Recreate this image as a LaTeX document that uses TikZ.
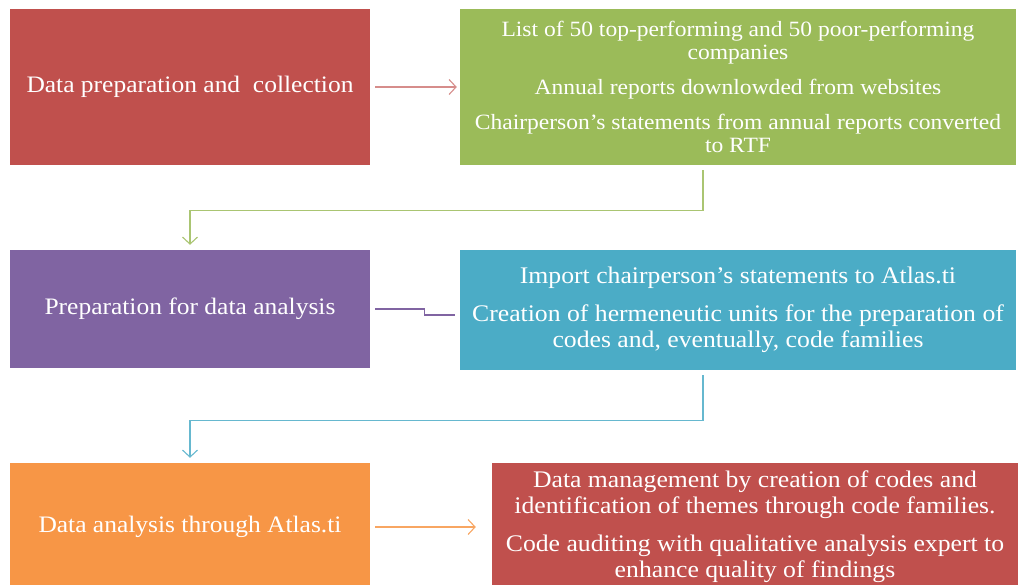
\documentclass[tikz,border=0pt]{standalone}
\usepackage{fontspec}
\setmainfont[FakeStretch=1.08]{Liberation Serif}
\usetikzlibrary{arrows.meta}

\definecolor{boxred}{HTML}{C0504D}
\definecolor{boxgreen}{HTML}{9BBB59}
\definecolor{boxpurple}{HTML}{8064A2}
\definecolor{boxblue}{HTML}{4BACC6}
\definecolor{boxorange}{HTML}{F79646}

\begin{document}
\begin{tikzpicture}[x=1pt,y=-1pt,
    box/.style={fill=#1,text=white,inner sep=0pt,align=center},
    link/.style={draw=#1,line width=1.1pt,-{Straight Barb[length=7pt,width=15pt,line width=1.1pt]}},
    plainlink/.style={draw=#1,line width=1.1pt}]

      \useasboundingbox (0,0) rectangle (1020,584);

      % left column
      \node[box=boxred,minimum width=360pt,minimum height=156pt,font=\fontsize{23.6}{26}\selectfont] (collect) at (190,87) {Data preparation and\ \ collection};
      \node[box=boxpurple,minimum width=360pt,minimum height=118pt,font=\fontsize{23.6}{26}\selectfont] (prep) at (190,309) {Preparation for data analysis};
      \node[box=boxorange,minimum width=360pt,minimum height=128pt,font=\fontsize{23.6}{26}\selectfont] (analysis) at (190,527) {Data analysis through Atlas.ti};

      % right column
      \node[box=boxgreen,minimum width=556pt,minimum height=156pt,font=\fontsize{21.8}{23}\selectfont] (reports) at (738,87)
        {List of 50 top-performing and 50 poor-performing\\ companies\\[12pt]
         Annual reports downlowded from websites\\[12pt]
         Chairperson's statements from annual reports converted\\ to RTF};
      \node[box=boxblue,minimum width=556pt,minimum height=120pt,font=\fontsize{23.8}{26}\selectfont] (atlas) at (738,310)
        {Import chairperson's statements to Atlas.ti\\[12pt]
         Creation of hermeneutic units for the preparation of\\ codes and, eventually, code families};
      \node[box=boxred,minimum width=526pt,minimum height=128pt,font=\fontsize{23.8}{26}\selectfont] (codes) at (755,527)
        {Data management by creation of codes and\\ identification of themes through code families.\\[12pt]
         Code auditing with qualitative analysis expert to\\ enhance quality of findings};

      % connectors
      \draw[link=boxred!65] ([xshift=5pt]collect.east) -- ([xshift=-3pt]reports.west);
      \draw[link=boxgreen!85] ([xshift=-35pt,yshift=-5pt]reports.south) -- ++(0,40) -| ([yshift=5pt]prep.north);
      \draw[plainlink=boxpurple] ([xshift=5pt]prep.east) -- ++(49,0) -- ++(0,6) -- ([xshift=-5pt,yshift=-5pt]atlas.west);
      \draw[link=boxblue!85] ([xshift=-35pt,yshift=-5pt]atlas.south) -- ++(0,45) -| ([yshift=5pt]analysis.north);
      \draw[link=boxorange!85] ([xshift=5pt]analysis.east) -- ([xshift=-16pt]codes.west);

\end{tikzpicture}
\end{document}
